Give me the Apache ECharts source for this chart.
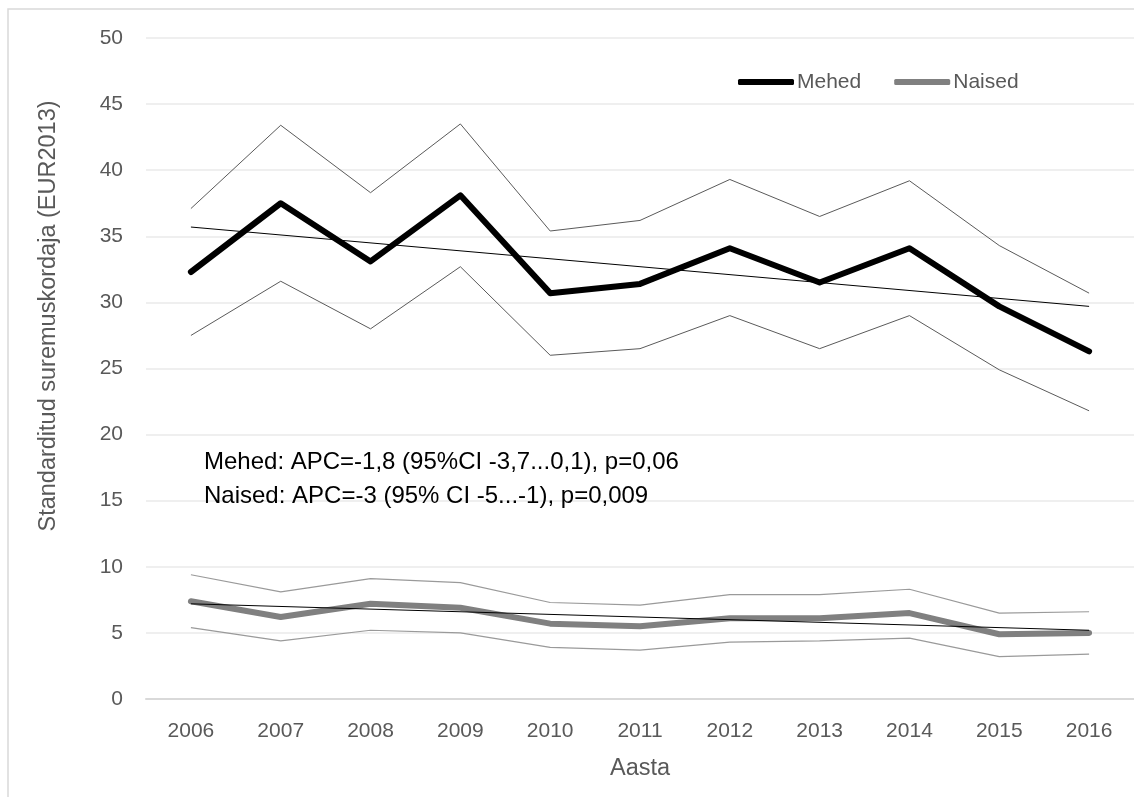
<!DOCTYPE html>
<html>
<head>
<meta charset="utf-8">
<title>Standarditud suremuskordaja</title>
<script src="https://cdn.jsdelivr.net/npm/echarts@6/dist/echarts.min.js"></script>
<style>
  html, body { margin: 0; padding: 0; background: #ffffff; }
  #chart { width: 1134px; height: 797px; }
</style>
</head>
<body>
<div id="chart"></div>
<script>
// Aastad
const years = ['2006', '2007', '2008', '2009', '2010', '2011', '2012', '2013', '2014', '2015', '2016'];

// Mehed: standarditud suremuskordaja ja 95% usalduspiirid
const menRate  = [32.3, 37.5, 33.1, 38.1, 30.7, 31.4, 34.1, 31.5, 34.1, 29.7, 26.3];
const menUpper = [37.1, 43.4, 38.3, 43.5, 35.4, 36.2, 39.3, 36.5, 39.2, 34.3, 30.7];
const menLower = [27.5, 31.6, 28.0, 32.7, 26.0, 26.5, 29.0, 26.5, 29.0, 24.9, 21.8];
// Mehed: lineaarse trendi otspunktid (2006 ja 2016)
const menTrend = [35.7, null, null, null, null, null, null, null, null, null, 29.7];

// Naised
const womenRate  = [7.4, 6.2, 7.2, 6.9, 5.7, 5.5, 6.1, 6.1, 6.5, 4.9, 5.0];
const womenUpper = [9.4, 8.1, 9.1, 8.8, 7.3, 7.1, 7.9, 7.9, 8.3, 6.5, 6.6];
const womenLower = [5.4, 4.4, 5.2, 5.0, 3.9, 3.7, 4.3, 4.4, 4.6, 3.2, 3.4];
const womenTrend = [7.2, null, null, null, null, null, null, null, null, null, 5.2];

// Tekstid
const seriesNames = ['Mehed', 'Naised'];
const yTitle = 'Standarditud suremuskordaja (EUR2013)';
const xTitle = 'Aasta';
const noteLines = [
  'Mehed: APC=-1,8 (95%CI -3,7...0,1), p=0,06',
  'Naised: APC=-3 (95% CI -5...-1), p=0,009'
];

const FONT = '"Liberation Sans", Arial, sans-serif';
const AXIS_TEXT = '#595959';

const chart = echarts.init(document.getElementById('chart'), null, { renderer: 'canvas' });

function thinLine(name, data, color, width, z) {
  return {
    name: name, type: 'line', data: data, symbol: 'none', silent: true,
    connectNulls: true, z: z,
    lineStyle: { color: color, width: width },
    emphasis: { disabled: true }
  };
}

chart.setOption({
  animation: false,
  backgroundColor: '#ffffff',
  grid: { left: 146, top: 38, width: 997, height: 661, containLabel: false },
  legend: {
    data: seriesNames.map(function (n) { return { name: n, icon: 'roundRect' }; }),
    left: 733, top: 65,
    itemWidth: 56, itemHeight: 6, itemGap: 33,
    selectedMode: false,
    textStyle: { fontFamily: FONT, fontSize: 21, color: AXIS_TEXT, padding: [0, 0, 0, -2], lineHeight: 24 }
  },
  xAxis: {
    type: 'category',
    data: years,
    boundaryGap: true,
    axisLine: { lineStyle: { color: '#d9d9d9', width: 2 } },
    axisTick: { show: false },
    axisLabel: { fontFamily: FONT, fontSize: 21, color: AXIS_TEXT, margin: 20, lineHeight: 24 },
    name: xTitle,
    nameLocation: 'middle',
    nameGap: 57,
    nameTextStyle: { fontFamily: FONT, fontSize: 23.5, color: AXIS_TEXT, lineHeight: 26 }
  },
  yAxis: {
    type: 'value',
    min: 0, max: 50, interval: 5,
    axisLine: { show: false },
    axisTick: { show: false },
    axisLabel: { fontFamily: FONT, fontSize: 21, color: AXIS_TEXT, margin: 23 },
    splitLine: { lineStyle: { color: '#efefef', width: 2 } }
  },
  graphic: [
    {
      type: 'rect', silent: true, z: -10,
      shape: { x: 8, y: 9, width: 1300, height: 1000 },
      style: { fill: 'none', stroke: '#d9d9d9', lineWidth: 1.5 }
    },
    {
      type: 'text', silent: true, z: 100,
      x: 49, y: 316, rotation: Math.PI / 2,
      style: {
        text: yTitle, fontFamily: FONT, fontSize: 23.5, fill: AXIS_TEXT,
        align: 'center', verticalAlign: 'middle'
      }
    },
    {
      type: 'text', silent: true, z: 100,
      x: 204, y: 462,
      style: { text: noteLines[0], fontFamily: FONT, fontSize: 24, fill: '#000000', align: 'left', verticalAlign: 'middle' }
    },
    {
      type: 'text', silent: true, z: 100,
      x: 204, y: 496,
      style: { text: noteLines[1], fontFamily: FONT, fontSize: 24, fill: '#000000', align: 'left', verticalAlign: 'middle' }
    }
  ],
  series: [
    thinLine('Mehed ülemine', menUpper, '#5a5a5a', 1, 2),
    thinLine('Mehed alumine', menLower, '#5a5a5a', 1, 2),
    thinLine('Naised ülemine', womenUpper, '#9a9a9a', 1.2, 2),
    thinLine('Naised alumine', womenLower, '#9a9a9a', 1.2, 2),
    {
      name: seriesNames[0], type: 'line', data: menRate, symbol: 'none', z: 3,
      lineStyle: { color: '#000000', width: 6, cap: 'round', join: 'round' },
      itemStyle: { color: '#000000' },
      emphasis: { disabled: true }
    },
    {
      name: seriesNames[1], type: 'line', data: womenRate, symbol: 'none', z: 3,
      lineStyle: { color: '#808080', width: 6, cap: 'round', join: 'round' },
      itemStyle: { color: '#808080' },
      emphasis: { disabled: true }
    },
    thinLine('Mehed trend', menTrend, '#000000', 1, 4),
    thinLine('Naised trend', womenTrend, '#000000', 1, 4)
  ]
});
</script>
</body>
</html>
